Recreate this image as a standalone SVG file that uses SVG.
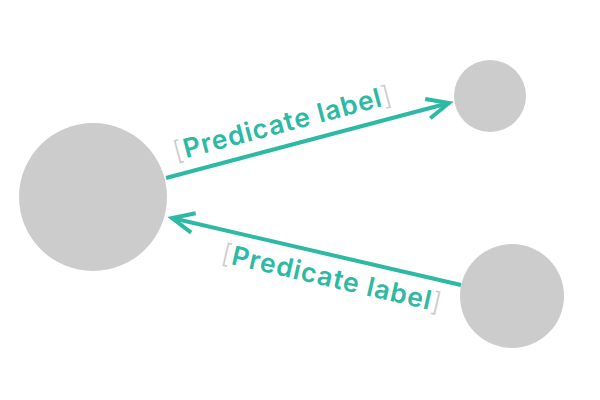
<svg xmlns="http://www.w3.org/2000/svg" width="600" height="400" viewBox="0 0 600 400">
<style>
.node{fill:#cccccc}
.edge{stroke:#2db9a3;stroke-width:4;fill:none}
.lbl{font-family:Inter,"Open Sans",sans-serif;font-weight:600;font-size:26.5px;fill:#2db9a3;letter-spacing:1px}
.br{fill:#cccccc;font-weight:300}
</style>
<defs>
<marker id="arr" markerWidth="40" markerHeight="40" refX="0" refY="0" markerUnits="userSpaceOnUse" orient="auto" overflow="visible">
<path d="M-22,-10 L0,0 L-22,10" fill="none" stroke="#2db9a3" stroke-width="4" stroke-linecap="butt" stroke-linejoin="miter"/>
</marker>
</defs>
<g id="n1"><circle class="node" cx="93" cy="197" r="74"/></g>
<g id="n2"><circle class="node" cx="490" cy="96" r="36"/></g>
<g id="n3"><circle class="node" cx="512" cy="296" r="52"/></g>
<g id="edges">
<line class="edge" x1="166" y1="178" x2="449" y2="103" marker-end="url(#arr)"/>
<line class="edge" x1="461" y1="285" x2="172" y2="218" marker-end="url(#arr)"/>
<text class="lbl" text-anchor="middle" transform="translate(285,132) rotate(-14.8)"><tspan class="br">[</tspan>Predicate label<tspan class="br">]</tspan></text>
<text class="lbl" text-anchor="middle" transform="translate(330,287) rotate(13)"><tspan class="br">[</tspan>Predicate label<tspan class="br">]</tspan></text>
</g>
</svg>
